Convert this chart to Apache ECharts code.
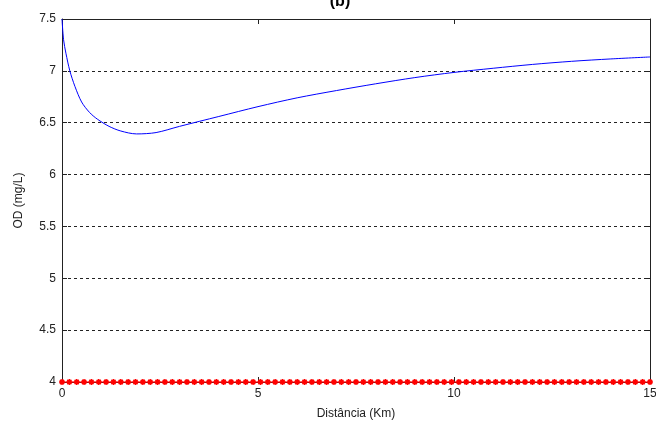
<!DOCTYPE html>
<html>
<head>
<meta charset="utf-8">
<script src="https://cdn.jsdelivr.net/npm/echarts@6/dist/echarts.min.js"></script>
<style>
html,body{margin:0;padding:0;background:#fff;}
#c{width:656px;height:421px;}
</style>
</head>
<body>
<div id="c"></div>
<script>
// Blue curve: OD (mg/L) vs distance (km)
var odX = [0, 0.04, 0.1, 0.2, 0.33, 0.5, 0.7, 0.9, 1.2, 1.5, 1.9, 2.4, 3.0, 4.0, 5.0, 6.0, 7.0, 8.0, 9.0, 10.0, 11.0, 12.0, 13.0, 14.0, 15.0];
var odY = [7.5, 7.3, 7.17, 7.0, 6.85, 6.70, 6.60, 6.535, 6.465, 6.42, 6.392, 6.405, 6.465, 6.56, 6.655, 6.74, 6.81, 6.875, 6.935, 6.985, 7.025, 7.062, 7.092, 7.115, 7.134];
// Red marked line: constant level
var redLevel = 4;
var redX = [0, 0.1875, 0.375, 0.5625, 0.75, 0.9375, 1.125, 1.3125, 1.5, 1.6875, 1.875, 2.0625, 2.25, 2.4375, 2.625, 2.8125, 3, 3.1875, 3.375, 3.5625, 3.75, 3.9375, 4.125, 4.3125, 4.5, 4.6875, 4.875, 5.0625, 5.25, 5.4375, 5.625, 5.8125, 6, 6.1875, 6.375, 6.5625, 6.75, 6.9375, 7.125, 7.3125, 7.5, 7.6875, 7.875, 8.0625, 8.25, 8.4375, 8.625, 8.8125, 9, 9.1875, 9.375, 9.5625, 9.75, 9.9375, 10.125, 10.3125, 10.5, 10.6875, 10.875, 11.0625, 11.25, 11.4375, 11.625, 11.8125, 12, 12.1875, 12.375, 12.5625, 12.75, 12.9375, 13.125, 13.3125, 13.5, 13.6875, 13.875, 14.0625, 14.25, 14.4375, 14.625, 14.8125, 15];
var xTicks = {min: 0, max: 15, interval: 5};
var yTicks = {min: 4, max: 7.5, interval: 0.5};
var titleText = '(b)';
var xName = 'Distância (Km)';
var yName = 'OD (mg/L)';

var font = '"Liberation Sans", Arial, sans-serif';
var axisColor = '#222';
var chart = echarts.init(document.getElementById('c'), null, {renderer: 'canvas'});

function baseAxis(extra) {
  return Object.assign({
    axisLine: {show: true, onZero: false, lineStyle: {color: axisColor, width: 1}},
    axisTick: {show: true, inside: true, length: 5, lineStyle: {color: axisColor}},
    splitLine: {show: false},
    axisLabel: {show: false}
  }, extra);
}

var option = {
  animation: false,
  backgroundColor: '#fff',
  title: {
    text: titleText,
    left: 335,
    top: -11,
    textAlign: 'center',
    textStyle: {fontFamily: font, fontSize: 16, fontWeight: 'bold', color: '#000'}
  },
  grid: {left: 62, right: 6, top: 19, bottom: 39, containLabel: false, outerBoundsMode: 'none'},
  xAxis: [
    baseAxis({
      type: 'value', position: 'bottom', min: xTicks.min, max: xTicks.max, interval: xTicks.interval,
      name: xName, nameLocation: 'middle', nameGap: 26,
      nameTextStyle: {fontFamily: font, fontSize: 12, color: '#222'},
      axisLabel: {show: true, margin: 6, fontFamily: font, fontSize: 12, color: '#222'}
    }),
    baseAxis({type: 'value', position: 'top', min: xTicks.min, max: xTicks.max, interval: xTicks.interval})
  ],
  yAxis: [
    baseAxis({
      type: 'value', position: 'left', min: yTicks.min, max: yTicks.max, interval: yTicks.interval,
      name: yName, nameLocation: 'middle', nameGap: 37, nameRotate: 90,
      nameTextStyle: {fontFamily: font, fontSize: 12, color: '#222'},
      axisLabel: {show: true, margin: 6, fontFamily: font, fontSize: 12, color: '#222'},
      splitLine: {show: true, lineStyle: {color: '#222', type: [3, 3], width: 1}}
    }),
    baseAxis({type: 'value', position: 'right', min: yTicks.min, max: yTicks.max, interval: yTicks.interval})
  ],
  series: [
    {
      type: 'line',
      xAxisIndex: 0, yAxisIndex: 0,
      data: odX.map(function (x, i) { return [x, odY[i]]; }),
      smooth: 0.3,
      showSymbol: false,
      lineStyle: {color: '#0000ff', width: 1},
      z: 3
    },
    {
      type: 'line',
      xAxisIndex: 0, yAxisIndex: 0,
      data: redX.map(function (x) { return [x, redLevel]; }),
      symbol: 'path://M0,4 L8,4 M4,0 L4,8 M1.2,1.2 L6.8,6.8 M6.8,1.2 L1.2,6.8',
      symbolSize: 6,
      showAllSymbol: true,
      itemStyle: {color: '#ff0000', borderColor: '#ff0000', borderWidth: 1.5},
      lineStyle: {color: '#ff0000', width: 1},
      clip: false,
      z: 4
    }
  ]
};
chart.setOption(option);
</script>
</body>
</html>
